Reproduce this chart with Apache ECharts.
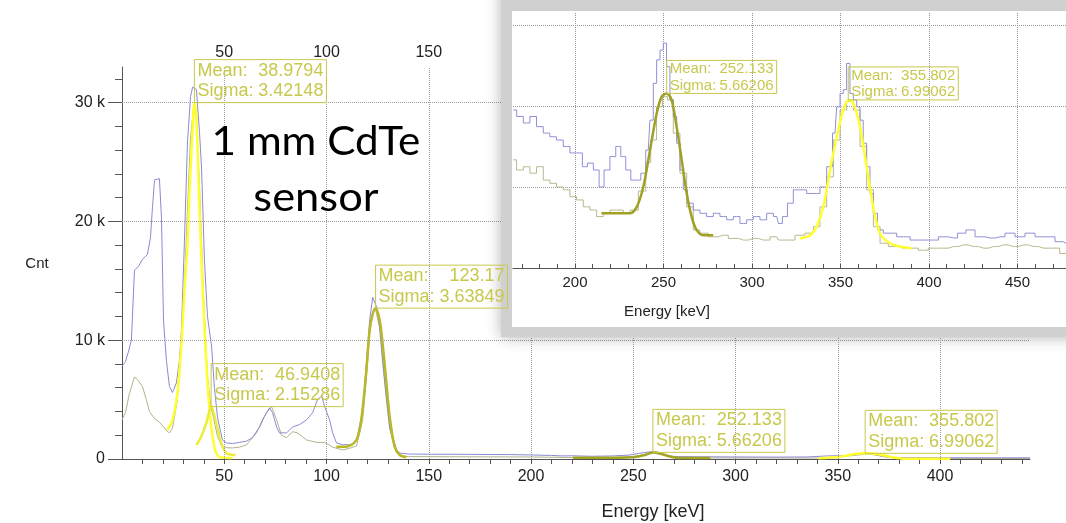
<!DOCTYPE html>
<html><head><meta charset="utf-8">
<script src="https://cdn.jsdelivr.net/npm/echarts@6/dist/echarts.min.js"></script>
<style>html,body{margin:0;padding:0;background:#fff}#c{width:1066px;height:523px}</style>
</head><body><div id="c"></div>
<script>
// ---------- main spectrum (keV, counts) ----------
const mainBlue = [[0,7800],[1.7,8200],[3.1,9000],[4.6,10000],[6.1,15900],[8.0,16200],[10.0,16800],[12.4,17200],[13.9,18600],[14.9,21200],[15.9,23500],[18.3,23600],[19.3,20300],[19.8,16000],[20.3,11700],[21.7,8300],[23.2,6100],[24.7,5600],[26.6,6400],[28.1,8300],[29.1,11000],[30.5,18200],[32.0,26600],[33.5,30500],[34.5,31300],[36.4,31100],[37.9,27500],[38.9,24500],[40.3,16800],[41.8,12000],[43.8,9500],[45.2,6000],[46.7,3500],[49.1,1600],[51.1,1350],[54.0,1300],[57.5,1400],[60.9,1500],[63.8,1800],[67.3,2700],[69.7,3600],[72.1,4300],[73.6,3900],[75.6,2700],[77.0,2200],[80.5,2200],[83.4,2700],[86.8,2900],[90.3,3300],[93.2,3900],[95.6,5000],[97.6,5300],[99.1,4400],[101.5,3300],[103.0,2200],[104.9,1350],[107.9,1200],[112.8,1200],[114.7,1600],[117.7,4100],[119.6,8300],[121.1,11700],[122.6,13600],[124.5,12800],[126.0,11100],[127.5,8300],[129.4,5000],[130.9,2700],[134.3,760],[135.8,500],[140,420],[150,400],[160,400],[170,390],[180,380],[190,370],[200,340],[210,300],[215,260],[220,270],[230,230],[240,260],[248,330],[253,480],[257,580],[260,600],[263,450],[267,250],[272,200],[280,190],[300,170],[320,160],[335,170],[345,260],[352,280],[358,330],[362,480],[366,460],[370,300],[376,130],[390,110],[410,100],[430,100],[444,100]];
const mainOlive = [[0,3300],[1.7,3900],[3.6,5500],[6.1,6900],[7.5,6700],[10.0,6100],[11.9,5000],[13.4,4000],[15.9,3400],[18.3,3100],[20.3,2700],[21.7,2400],[23.2,2200],[24.7,2600],[27.1,5000],[29.1,9500],[30.5,14500],[32.0,21000],[33.5,27000],[34.9,29500],[36.4,28500],[37.9,23000],[39.8,14000],[41.8,7000],[43.3,4500],[44.7,3500],[46.7,1900],[48.7,1100],[51.1,950],[54.0,930],[57.5,1000],[60.9,1200],[65.8,2200],[68.7,3300],[70.7,3900],[73.1,4400],[75.6,3300],[78.0,2000],[80.5,1800],[83.4,2300],[85.8,2200],[90.3,1600],[95.1,1400],[99.1,1400],[103.0,1000],[107.9,760],[111.3,900],[114.7,1100],[117.7,3300],[119.6,7000],[121.1,10500],[122.6,12300],[124.0,12600],[126.0,11000],[127.5,8000],[129.4,4800],[130.9,2500],[133.4,900],[135.8,300],[140,200],[160,190],[180,180],[200,170],[220,120],[240,120],[250,200],[256,380],[260,480],[264,380],[268,180],[275,90],[300,85],[340,80],[350,150],[358,300],[364,420],[368,350],[374,150],[380,50],[400,50],[444,40]];
const fitA = [[22.2,2440],[24.7,3290],[27.1,5560],[29.1,9770],[30.5,13990],[32.0,18000],[33.0,22400],[34.5,27700],[35.4,30000],[36.4,28600],[37.9,21000],[40.3,11100],[42.8,4130],[45.2,1010],[47.7,170],[54.0,85]];
const fitB = [[36.4,1180],[38.7,1880],[41.2,3010],[43.6,4410],[46.1,3010],[48.5,1350],[51.0,500],[54.2,340],[55.5,330]];
const fitC = [[104.8,1040],[109.7,1040],[114.6,1600],[117.0,3290],[119.5,7500],[121.1,10870],[122.7,12280],[124.0,12700],[126.0,11710],[127.6,9460],[129.3,6380],[130.9,3570],[133.3,1040],[135.8,340],[139.0,140]];
const fitD = [[220.5,110],[243.5,110],[250.8,170],[255.7,340],[259.6,560],[264.0,420],[268.0,210],[272.9,85],[287.7,85]];
const fitE = [[340.5,60],[351.2,190],[357.7,400],[363.4,480],[369.1,420],[375.6,190],[382.1,25],[405,25]];
const fitMeans  = ['38.9794','46.9408','123.17','252.133','355.802'];
const fitSigmas = ['3.42148','2.15286','3.63849','5.66206','6.99062'];

// ---------- inset (keV, counts in inset units) ----------
const insetBlue = [[165.1,390],[169,374],[172.7,358],[176.4,374],[180.2,349],[184,333],[187.6,324],[191.5,316],[195.3,300],[199,284],[202.8,284],[205.6,250],[208.5,259],[212.3,242],[215,200],[217.9,242],[221.6,275],[224.5,300],[227.3,275],[230.1,242],[233,217],[235.8,217],[238.6,234],[241.4,291],[243.3,365],[245.2,456],[247.1,514],[249,538],[250.8,555],[252.7,497],[254.6,415],[256.5,374],[258.4,308],[260.3,242],[262.1,193],[265,160],[268.7,143],[272.5,135],[276.3,127],[280,135],[283.8,127],[287.6,119],[291.3,127],[295.1,110],[298.9,119],[302.6,127],[306.4,119],[310.2,135],[314,127],[315.8,110],[318.6,127],[321.5,160],[325.2,193],[329,193],[332.8,184],[336.5,184],[340.3,200],[344.1,250],[346.9,333],[348.8,398],[350.7,431],[352.5,440],[354.4,505],[356.3,431],[358.2,415],[360.1,398],[361.9,365],[363.8,308],[365.7,250],[367.6,184],[369.5,135],[372.3,94],[376.1,86],[379.9,86],[383.6,77],[387.4,77],[391.2,69],[396.8,69],[402.5,69],[408.2,77],[413.8,74],[418.5,86],[423.2,94],[428.8,77],[434.5,74],[440.1,77],[445.8,86],[451.4,77],[457.1,86],[462.7,77],[468.4,77],[474,65],[477.4,61]];
const insetOlive = [[165,267],[169,242],[172.7,250],[176.4,234],[180.2,250],[184,217],[187.7,209],[191.5,200],[195.3,193],[199,176],[202.8,168],[206.6,151],[210.4,143],[214.1,127],[217.9,135],[221.6,143],[225.4,143],[229.2,135],[233,143],[238.6,190],[241.4,260],[244.2,316],[248,398],[250.8,423],[253.7,415],[257.4,333],[261.2,234],[265,151],[268.7,94],[272.5,86],[278.1,77],[283.8,81],[289.4,73],[295.1,69],[300.7,73],[306.4,69],[314,77],[315.8,69],[321.5,69],[327.1,81],[332.8,86],[336.5,102],[340.3,151],[344.1,225],[347.9,316],[351.6,390],[355.4,411],[359.2,390],[362.9,300],[366.7,193],[370.5,102],[374.2,61],[379.9,53],[385.5,49],[391.2,49],[396.8,44],[402.5,49],[408.2,49],[413.8,53],[419.5,57],[425.1,53],[430.8,49],[436.4,53],[442.1,57],[447.7,53],[453.4,57],[459,53],[464.7,49],[470.3,49],[477.4,36]];
const insetFit1 = [[215,135],[231,135],[234.9,151],[238.6,200],[242.4,291],[246.2,382],[249,423],[251.8,431],[254.6,415],[257.4,349],[260.3,267],[263.1,185],[265.9,127],[268.7,94],[272.5,81],[278.1,81]];
const insetFit2 = [[327.1,73],[332.8,81],[336.5,102],[340.3,151],[344.1,242],[347.9,324],[351.6,390],[354.4,415],[357.2,407],[361,349],[364.8,250],[368.5,151],[372.3,86],[377.9,61],[383.6,53],[390.2,49]];

// ---------- ticks ----------
const mainXLabels = [50,100,150,200,250,300,350,400];
const mainXTicks = [10,20,30,40,50,60,70,80,90,100,110,120,130,140,150,160,170,180,190,200,210,220,230,240,250,260,270,280,290,300,310,320,330,340,350,360,370,380,390,400,410,420,430,440];
const topXLabels = [50,100,150];
const mainYLabels = [0,10000,20000,30000];
const mainYMinor = [2000,4000,6000,8000,12000,14000,16000,18000,22000,24000,26000,28000,32000];
const insetXLabels = [200,250,300,350,400,450];
const insetXTicks = [170,180,190,200,210,220,230,240,250,260,270,280,290,300,310,320,330,340,350,360,370,380,390,400,410,420,430,440,450,460,470];
const insetYGrid = [200,400,600];

const FONT = '"Liberation Sans", Arial, sans-serif';
const BOXC = '#c8c84c';
const chart = echarts.init(document.getElementById('c'));

function lineS(data, color, width, xi, yi, z, extra) {
  return Object.assign({type:'line', data, xAxisIndex:xi, yAxisIndex:yi, showSymbol:false, symbol:'none',
    lineStyle:{color, width}, z, silent:true, emphasis:{disabled:true}}, extra||{});
}
const gridLineStyle = {type:'dotted', color:'#9c9c9c', width:1};

const option = {
  animation:false,
  grid:[{left:122, top:67, right:36, bottom:64},{left:513, top:12, right:0, bottom:255}],
  xAxis:[
    {gridIndex:0, type:'value', min:0, max:444, position:'bottom',
     axisLine:{lineStyle:{color:'#555', width:1}},
     axisTick:{customValues:mainXTicks, length:5, lineStyle:{color:'#555'}},
     axisLabel:{customValues:mainXLabels, fontSize:16, color:'#222', margin:10, fontFamily:FONT},
     splitLine:{show:false}},
    {gridIndex:0, type:'value', min:0, max:444, position:'top',
     axisLine:{show:false}, axisTick:{show:false},
     axisLabel:{customValues:topXLabels, fontSize:16, color:'#222', margin:6, fontFamily:FONT},
     splitLine:{show:false}},
    {gridIndex:1, type:'value', min:165, max:477.4, position:'bottom', z:12,
     axisLine:{lineStyle:{color:'#555', width:1}},
     axisTick:{customValues:insetXTicks, inside:true, length:4, lineStyle:{color:'#555'}},
     axisLabel:{customValues:insetXLabels, fontSize:15, color:'#222', margin:7, fontFamily:FONT},
     splitLine:{show:false}}
  ],
  yAxis:[
    {gridIndex:0, type:'value', min:0, max:33000, position:'left',
     axisLine:{show:true, lineStyle:{color:'#555', width:1}},
     axisTick:{customValues:mainYLabels, length:14, lineStyle:{color:'#555'}},
     axisLabel:{customValues:mainYLabels, fontSize:16, color:'#222', margin:17, fontFamily:FONT,
       formatter:v => v === 0 ? '0' : (v/1000) + ' k'},
     splitLine:{show:false}},
    {gridIndex:0, type:'value', min:0, max:33000, position:'left', offset:0,
     axisLine:{show:false}, axisTick:{customValues:mainYMinor, length:7, lineStyle:{color:'#555'}},
     axisLabel:{show:false}, splitLine:{show:false}},
    {gridIndex:1, type:'value', min:0, max:632, show:false, splitLine:{show:false}}
  ],
  series:[
    lineS([], '#000', 0, 0, 0, 1, {markLine:{silent:true, symbol:['none','none'], label:{show:false}, lineStyle:gridLineStyle, emphasis:{disabled:true},
      data:[...mainXLabels.map(v=>({xAxis:v})), ...mainYLabels.filter(v=>v>0).map(v=>({yAxis:v}))]}}),
    lineS(mainOlive, '#b2b28a', 1, 0, 0, 2),
    lineS(mainBlue, '#8a8ad4', 1, 0, 0, 3),
    lineS(fitA, '#ffff30', 2.5, 0, 0, 4, {smooth:0.3}),
    lineS(fitB, '#ecec3a', 2.5, 0, 0, 4, {smooth:0.3}),
    lineS(fitC, '#b8b828', 2.5, 0, 0, 4, {smooth:0.3}),
    lineS(fitD, '#a4a422', 2.5, 0, 0, 4, {smooth:0.3}),
    lineS(fitE, '#ffff30', 2.5, 0, 0, 4, {smooth:0.3}),
    // inset
    lineS([], '#000', 0, 2, 2, 11, {markLine:{z:11, silent:true, symbol:['none','none'], label:{show:false}, lineStyle:{type:'dotted', color:'#999999', width:1}, emphasis:{disabled:true},
      data:[...insetXLabels.map(v=>({xAxis:v})), ...insetYGrid.map(v=>({yAxis:v}))]}}),
    lineS(insetOlive, '#b8b890', 1, 2, 2, 12, {step:'middle'}),
    lineS(insetBlue, '#9090d8', 1, 2, 2, 13, {step:'middle'}),
    lineS(insetFit1, '#a0a022', 2.5, 2, 2, 14, {smooth:0.3}),
    lineS(insetFit2, '#ffff30', 2.5, 2, 2, 14, {smooth:0.3})
  ]
};
chart.setOption(option);

function peak(arr){ let m = arr[0]; arr.forEach(p => { if (p[1] > m[1]) m = p; }); return m; }
function box(pt, w, h, fs, y1, y2, mean, sigma, z) {
  const x = pt[0], y = pt[1] - h;
  const t = (txt, tx, ty, align) => ({type:'text', x:tx, y:ty, z, style:{text:txt, fill:BOXC, font:fs+'px '+FONT, align, verticalAlign:'middle'}});
  return {type:'group', x, y, z, children:[
    {type:'rect', z, shape:{x:0, y:0, width:w, height:h}, style:{fill:'none', stroke:BOXC, lineWidth:1}},
    t('Mean:', 3, y1, 'left'), t('Sigma:', 3, y2, 'left'),
    t(mean, w-3, y1, 'right'), t(sigma, w-3, y2, 'right')
  ]};
}
const mainFits = [fitA, fitB, fitC, fitD, fitE];
const BIG = '41px Lato, "Open Sans", sans-serif';
const gfx = [
  {type:'rect', z:10, shape:{x:501, y:-12, width:620, height:349}, style:{fill:'#d0d0d0', shadowBlur:14, shadowColor:'rgba(0,0,0,0.3)'}},
  {type:'rect', z:10, shape:{x:512, y:11, width:620, height:316}, style:{fill:'#ffffff'}},
  {type:'text', z:20, x:316, y:142, scaleX:1.03, style:{text:'1 mm CdTe', font:BIG, fill:'#000', align:'center', verticalAlign:'middle'}},
  {type:'text', z:20, x:316, y:198, scaleX:1.06, style:{text:'sensor', font:BIG, fill:'#000', align:'center', verticalAlign:'middle'}},
  {type:'text', z:20, x:37, y:264, style:{text:'Cnt', font:'15px '+FONT, fill:'#222', align:'center', verticalAlign:'middle'}},
  {type:'text', z:20, x:653, y:512, style:{text:'Energy [keV]', font:'18px '+FONT, fill:'#222', align:'center', verticalAlign:'middle'}},
  {type:'text', z:20, x:667, y:312, style:{text:'Energy [keV]', font:'15px '+FONT, fill:'#222', align:'center', verticalAlign:'middle'}}
];
mainFits.forEach((f, i) => {
  const p = chart.convertToPixel({xAxisIndex:0, yAxisIndex:0}, peak(f));
  gfx.push(box(p, 132, 43, 18, 11, 31.5, fitMeans[i], fitSigmas[i], i < 3 ? 20 : 5));
});
[[insetFit1, 3], [insetFit2, 4]].forEach(([f, i]) => {
  const p = chart.convertToPixel({xAxisIndex:2, yAxisIndex:2}, peak(f));
  gfx.push(box(p, 110, 33, 15, 8.5, 25, fitMeans[i], fitSigmas[i], 30));
});
chart.setOption({graphic:{elements:gfx}});
</script>
</body></html>
